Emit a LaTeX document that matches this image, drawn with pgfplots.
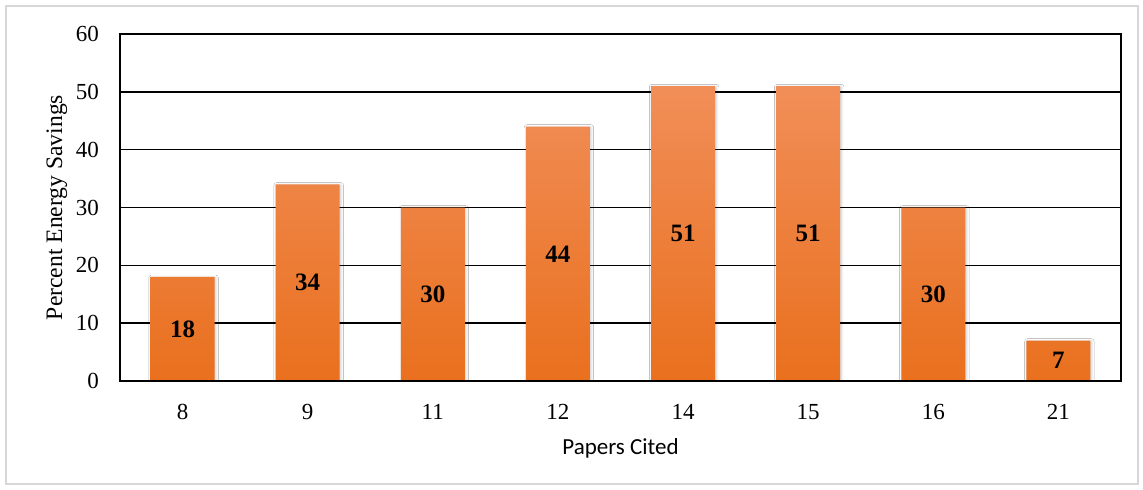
\documentclass[border=0pt]{standalone}
\usepackage{pgfplots}
\usepackage{pgfplotstable}
\pgfplotsset{compat=1.18}
\usepackage{fontspec}
\setmainfont{Liberation Serif}
\newfontfamily\calibri{Carlito}
\usetikzlibrary{shadows.blur}

\definecolor{barTop}{RGB}{241,142,88}
\definecolor{barMid}{RGB}{246,130,48}
\definecolor{barBot}{RGB}{233,112,30}
\definecolor{frameGray}{RGB}{215,215,215}

% Percent energy savings per number of papers cited
\pgfplotstableread{
pos savings
0 18
1 34
2 30
3 44
4 51
5 51
6 30
7 7
}\savingsdata

\begin{document}
\begin{tikzpicture}
% page and outer frame
\fill[white] (0pt,0pt) rectangle (571.5pt,244.5pt);
\draw[frameGray, line width=0.7pt] (3pt,2.5pt) rectangle (569pt,241.5pt);

\begin{axis}[
  at={(60pt,54pt)}, anchor=south west,
  scale only axis, width=500.5pt, height=173.5pt,
  xmin=-0.5, xmax=7.5, ymin=0, ymax=60,
  xtick={0,...,7},
  xticklabels={8,9,11,12,14,15,16,21},
  ytick={0,10,...,60},
  major tick length=0pt,
  ymajorgrids,
  grid style={black, line width=0.75pt},
  axis line style={black, line width=0.75pt},
  /pgf/number format/assume math mode=true,
  tick label style={font=\fontsize{11.5}{13}\selectfont},
  xticklabel style={yshift=-8pt},
  yticklabel style={xshift=-7pt},
  xlabel={\calibri Papers Cited},
  xlabel style={font=\fontsize{11.5}{13}\selectfont, yshift=-2.5pt},
  ylabel={Percent Energy Savings},
  ylabel style={font=\fontsize{11.8}{13}\selectfont, yshift=-2.5pt},
]
\addplot[ybar, bar width=32pt, draw=none,
  top color=barTop, middle color=barMid, bottom color=barBot,
  blur shadow={shadow xshift=0.5pt, shadow yshift=-0.5pt, shadow blur radius=1.4pt, shadow opacity=22}]
  table[x=pos, y=savings] {\savingsdata};

% value labels at mid-height of each bar
\addplot[draw=none, mark=none,
  nodes near coords, point meta=explicit symbolic,
  every node near coord/.append style={anchor=center, font=\fontsize{12.5}{14}\selectfont\bfseries}]
  table[x=pos, y expr=\thisrow{savings}/2, meta=savings] {\savingsdata};

\draw[black, line width=1.3pt] (axis cs:-0.5,0) -- (axis cs:7.5,0);
\end{axis}
\end{tikzpicture}
\end{document}
